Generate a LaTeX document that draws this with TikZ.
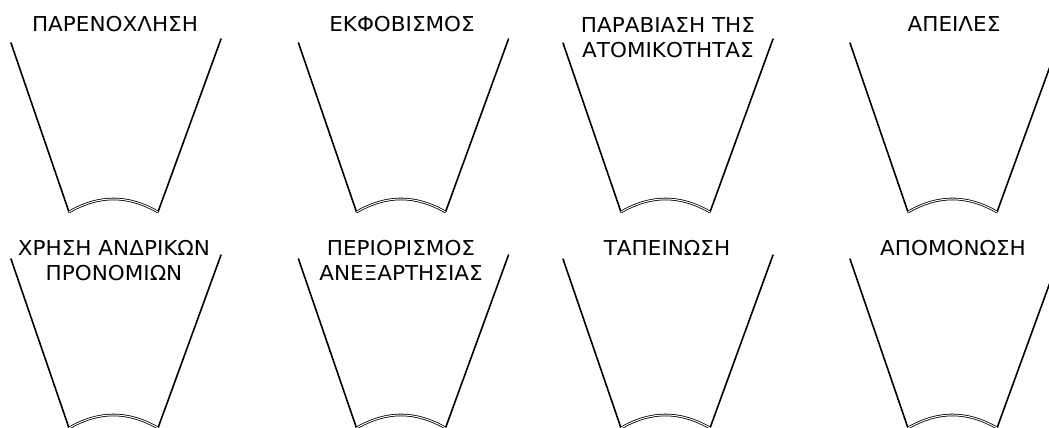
\documentclass[tikz,border=0pt]{standalone}
\usepackage{fontspec}
\setmainfont{DejaVu Sans}
\newfontfamily\cupfont[FakeStretch=1.05]{DejaVu Sans}
\usetikzlibrary{positioning}

\tikzset{
  cuplabel/.style={font=\cupfont\fontsize{20.5}{25}\selectfont, align=center, anchor=base, inner sep=0pt},
  cupside/.style={line width=1.6pt, line cap=round, line join=round},
  cupbase/.style={double, double distance=1pt, line width=0.8pt}
}

\begin{document}
\begin{tikzpicture}[x=1pt, y=-1pt]
    \useasboundingbox (0,0) rectangle (1049,428);
    \clip (0,0) rectangle (1049,428);
    % cups: centre x / row offset / name
    \foreach \cx/\cy/\nm in {116/0/c1, 403.5/0/c2, 668/0/c3, 955/0/c4,
                             116/216/c5, 403.5/216/c6, 668/216/c7, 955/216/c8}{
        \coordinate (\nm-tl) at ({\cx-105},{\cy+43});
        \coordinate (\nm-bl) at ({\cx-47},{\cy+212});
        \coordinate (\nm-br) at ({\cx+42},{\cy+212});
        \coordinate (\nm-tr) at ({\cx+105},{\cy+39});
        \draw[cupside] (\nm-tl) -- (\nm-bl);
        \draw[cupside] (\nm-tr) -- (\nm-br);
        \draw[cupbase] (\nm-bl) to[bend left=30] (\nm-br);
    }
    % labels (two-line ones sit on their last baseline)
    \node[cuplabel] (l1) at (115,32) {ΠΑΡΕΝΟΧΛΗΣΗ};
    \node[cuplabel] (l2) at (402,32) {ΕΚΦΟΒΙΣΜΟΣ};
    \node[cuplabel] (l3) at (668,58) {ΠΑΡΑΒΙΑΣΗ ΤΗΣ\\ΑΤΟΜΙΚΟΤΗΤΑΣ};
    \node[cuplabel] (l4) at (954,32) {ΑΠΕΙΛΕΣ};
    \node[cuplabel] (l5) at (114,280) {ΧΡΗΣΗ ΑΝΔΡΙΚΩΝ\\ΠΡΟΝΟΜΙΩΝ};
    \node[cuplabel] (l6) at (401,280) {ΠΕΡΙΟΡΙΣΜΟΣ\\ΑΝΕΞΑΡΤΗΣΙΑΣ};
    \node[cuplabel] (l7) at (667,255) {ΤΑΠΕΙΝΩΣΗ};
    \node[cuplabel] (l8) at (953,255) {ΑΠΟΜΟΝΩΣΗ};
\end{tikzpicture}
\end{document}
